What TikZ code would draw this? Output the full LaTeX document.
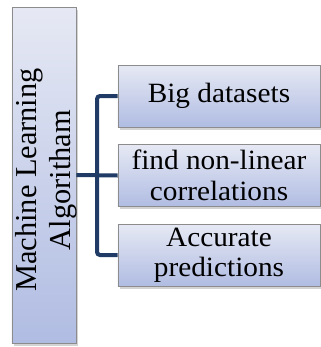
\documentclass[tikz,border=0pt]{standalone}
\usepackage{fontspec}
\setmainfont{Liberation Serif}
\newfontfamily\boxfont[FakeStretch=1.05]{Liberation Serif}
\usetikzlibrary{shadows}
\definecolor{boxtop}{HTML}{E6E9F4}
\definecolor{boxbot}{HTML}{B0BCE2}
\definecolor{boxline}{HTML}{8C8C8C}
\definecolor{conn}{HTML}{1F3B66}
\tikzset{
  box/.style={draw=boxline, line width=0.8bp, top color=boxtop, bottom color=boxbot,
    drop shadow={opacity=0.35, shadow xshift=2bp, shadow yshift=-2.5bp}, inner sep=0pt},
  itembox/.style={box, minimum width=202bp, minimum height=62bp, align=center,
    font=\boxfont\fontsize{28}{30.5}\selectfont},
  connline/.style={draw=conn, line width=4bp, rounded corners=3bp},
}
\begin{document}
\begin{tikzpicture}[x=1bp,y=-1bp]
\useasboundingbox (0,0) rectangle (321,347);
\node[box, minimum width=64bp, minimum height=336bp] (ml) at (44,175) {};
\node[rotate=90, align=center, font=\fontsize{30.5}{34.5}\selectfont, inner sep=0pt] (mlt) at (46.5,180) {Machine Learning\\Algoritham};
\node[itembox] (b1) at (219,96) {Big datasets};
\node[itembox] (b2) at (219,175.5) {find non-linear\\correlations};
\node[itembox] (b3) at (219,255) {Accurate\\predictions};
\coordinate (j) at (97,175);
\draw[connline] (ml.east) -- (b2.west);
\draw[connline] (b1.west) -- (b1.west -| j) -- (b3.west -| j) -- (b3.west);
\end{tikzpicture}
\end{document}
